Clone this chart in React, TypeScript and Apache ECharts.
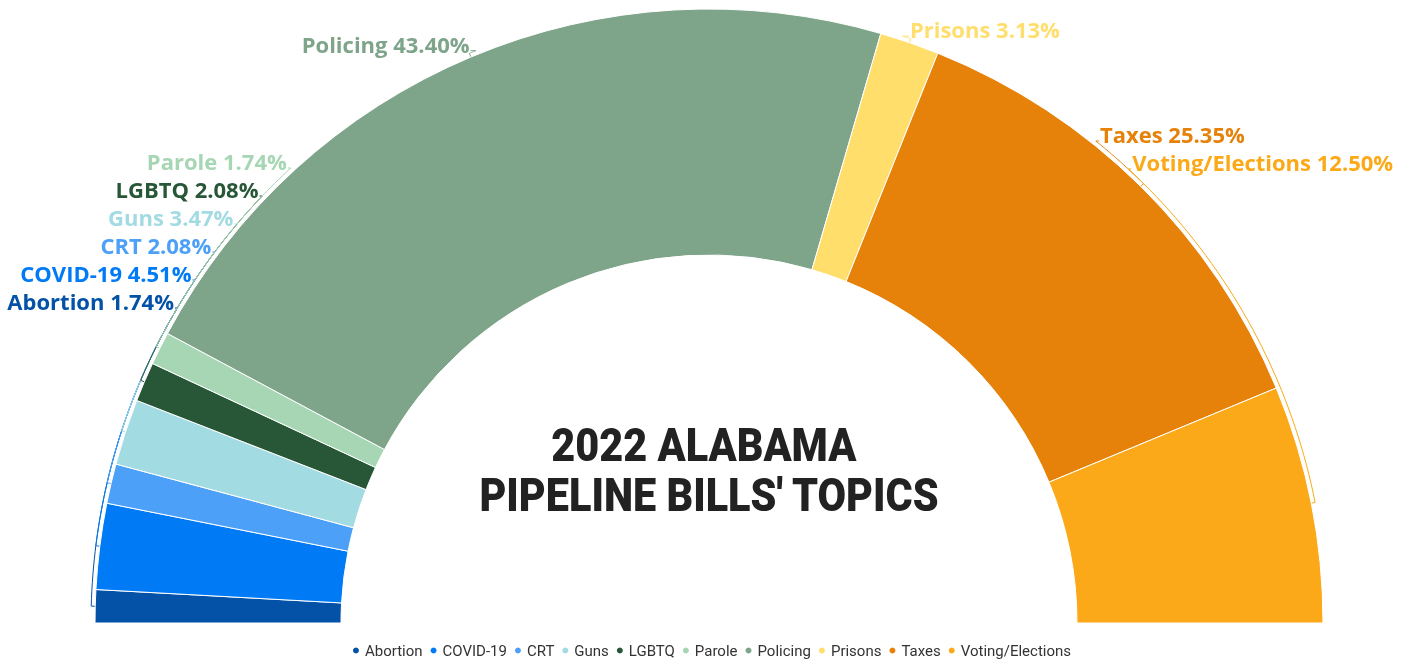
import React, { useEffect, useRef } from "react";
import * as echarts from "echarts";

const categories = ["Abortion", "COVID-19", "CRT", "Guns", "LGBTQ", "Parole", "Policing", "Prisons", "Taxes", "Voting/Elections"];
const billCounts = [5, 13, 6, 10, 6, 5, 125, 9, 73, 36];
const sliceColors = ["#0352A8", "#007BF5", "#4DA0F8", "#A3DBE3", "#285737", "#A7D6B4", "#7EA48A", "#FFDE6C", "#E68109", "#FBA918"];
const titleLines = ["2022 ALABAMA ", "PIPELINE BILLS' TOPICS"];

// layout constants
const CX = 709;
const CY = 623;
const R_OUT = 614;
const R_IN = 368;
const LINE_LEN = 8;
const LABEL_H = 28;
const LEFT_LOWEST = 301;
const RIGHT_LOWEST = 162;

function computeLabelLayout() {
  const total = billCounts.reduce((a, b) => a + b, 0);
  let cum = 0;
  const items = billCounts.map((v, i) => {
    const theta = Math.PI - (Math.PI * (cum + v / 2)) / total;
    cum += v;
    const natural = CY - (R_OUT + LINE_LEN) * Math.sin(theta) - 6;
    return { i, theta, natural, left: Math.cos(theta) < 0, y: natural };
  });
  for (const side of [true, false]) {
    const list = items.filter((it) => it.left === side).sort((a, b) => b.natural - a.natural);
    let limit = side ? LEFT_LOWEST : RIGHT_LOWEST;
    for (const it of list) {
      it.y = Math.min(it.natural, limit);
      limit = it.y - LABEL_H;
    }
  }
  return items.map((it) => {
    const dir = it.left ? -1 : 1;
    const endY = it.y + 7;
    const rr = R_OUT + 6;
    const endDx = Math.sqrt(Math.max(rr * rr - (CY - endY) * (CY - endY), 0));
    const endX = CX + dir * endDx;
    const pts: number[][] = [];
    pts.push([CX + R_OUT * Math.cos(it.theta), CY - R_OUT * Math.sin(it.theta)]);
    const ra = R_OUT + 4;
    const s = Math.min((CY - endY) / ra, 1);
    let phiEnd = Math.asin(s);
    if (it.left) phiEnd = Math.PI - phiEnd;
    const steps = 40;
    for (let k = 0; k <= steps; k++) {
      const a = it.theta + ((phiEnd - it.theta) * k) / steps;
      pts.push([CX + ra * Math.cos(a), CY - ra * Math.sin(a)]);
    }
    pts.push([endX, endY]);
    return { x: endX + dir * 1, y: it.y, align: it.left ? "right" : "left", pts };
  });
}

export default function App() {
  const ref = useRef<HTMLDivElement>(null);
  useEffect(() => {
    if (!ref.current) return;
    const chart = echarts.init(ref.current, undefined, { renderer: "svg" });
    const total = billCounts.reduce((a, b) => a + b, 0);
    const labelPos = computeLabelLayout();
    chart.setOption({
      animation: false,
      color: sliceColors,
      legend: {
        bottom: 0,
        padding: [5, 10, 2, 10],
        left: "center",
        icon: "circle",
        itemWidth: 8,
        itemHeight: 8,
        itemGap: 6,
        textStyle: { fontFamily: "Roboto", fontSize: 15, color: "#333" },
        data: categories,
      },
      graphic: [
        {
          type: "text",
          x: 709,
          y: 420,
          scaleX: 0.9,
          style: {
            text: titleLines.join("\n"),
            fontFamily: "Roboto",
            fontWeight: 900,
            fontSize: 46,
            lineHeight: 50,
            fill: "#222",
            textAlign: "center",
          },
        },
      ],
      series: [
        {
          type: "pie",
          center: [CX, CY],
          radius: [R_IN, R_OUT],
          startAngle: 180,
          endAngle: 360,
          itemStyle: { borderColor: "#fff", borderWidth: 1 },
          label: {
            show: true,
            fontFamily: "Open Sans",
            fontWeight: "bold",
            fontSize: 22,
            overflow: "none",
            formatter: (p: any) => `${p.name} ${((p.value / total) * 100).toFixed(2)}%`,
          },
          labelLine: { show: true, length: LINE_LEN, length2: 4, lineStyle: { width: 1 } },
          labelLayout: (params: any) => {
            const lp = labelPos[params.dataIndex];
            return {
              x: lp.x,
              y: lp.y,
              align: lp.align,
              verticalAlign: "middle",
              labelLinePoints: lp.pts,
            };
          },
          data: categories.map((name, i) => ({
            name,
            value: billCounts[i],
            label: { color: sliceColors[i] },
          })),
        },
      ],
    });
    return () => chart.dispose();
  }, []);
  return <div ref={ref} style={{ position: "fixed", left: 0, top: 0, width: "100vw", height: "100vh" }} />;
}
